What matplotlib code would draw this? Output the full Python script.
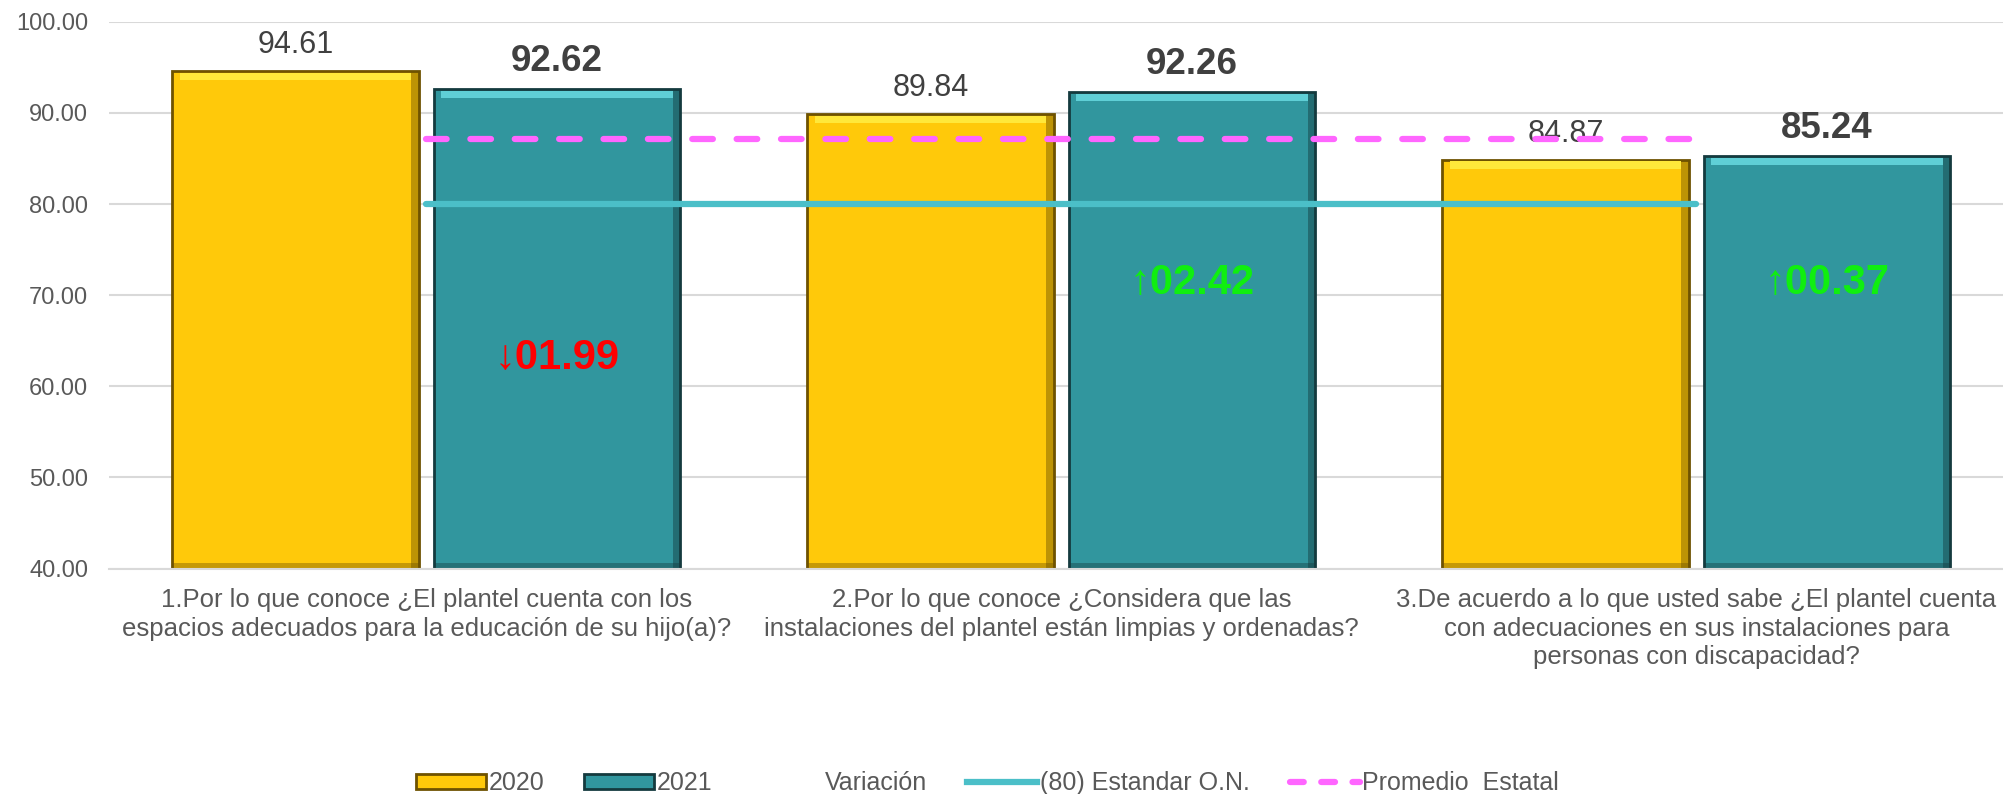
import matplotlib
matplotlib.use("Agg")
import matplotlib.pyplot as plt
from matplotlib.lines import Line2D
from matplotlib.patches import Patch
import numpy as np

plt.rcParams['font.family'] = ['Liberation Sans', 'DejaVu Sans']

categories = ["1.Por lo que conoce ¿El plantel cuenta con los\nespacios adecuados para la educación de su hijo(a)?",
              "2.Por lo que conoce ¿Considera que las\ninstalaciones del plantel están limpias y ordenadas?",
              "3.De acuerdo a lo que usted sabe ¿El plantel cuenta\ncon adecuaciones en sus instalaciones para\npersonas con discapacidad?"]
values2020 = [94.61, 89.84, 84.87]
values2021 = [92.62, 92.26, 85.24]
variacion = [-1.99, 2.42, 0.37]
variacionY = [63.1, 71.3, 71.3]   # height where the variation label sits
estandar = [80, 80, 80]
promedio = [87.1, 87.1, 87.1]

gray = '#595959'
gold = '#FFC90A'
goldLight = '#FFE83A'
goldEdge = '#6E5200'
teal = '#31969E'
tealLight = '#5FCFD6'
tealEdge = '#143A3E'

fig = plt.figure(figsize=(20.03, 7.94), dpi=100)
ax = fig.add_axes([0.0544, 0.284, 0.9456, 0.6886])

x = np.arange(len(categories))
w = 0.388
off = 0.206
base = 40

def bevelBars(xs, vals, face, light, edge):
	vals = np.array(vals)
	ax.bar(xs, vals - base, w, bottom=base, color=face, edgecolor=edge, linewidth=2, zorder=2)
	# top highlight and dark side/bottom strips to imitate the bevel
	ax.bar(xs, 0.8, w * 0.94, bottom=vals - 1.0, color=light, linewidth=0, zorder=2.1)
	ax.bar(xs + w / 2 - 0.006, vals - base, 0.012, bottom=base, color=edge, linewidth=0, alpha=0.45, zorder=2.1)
	ax.bar(xs, 0.6, w, bottom=base, color=edge, linewidth=0, alpha=0.4, zorder=2.1)

bevelBars(x - off, values2020, gold, goldLight, goldEdge)
bevelBars(x + off, values2021, teal, tealLight, tealEdge)

for i in range(len(x)):
	ax.annotate("%.2f" % values2020[i], (x[i] - off, values2020[i]), xytext=(0, 13), textcoords='offset points',
		ha='center', va='baseline', fontsize=22, color='#404040')
	ax.annotate("%.2f" % values2021[i], (x[i] + off, values2021[i]), xytext=(0, 13), textcoords='offset points',
		ha='center', va='baseline', fontsize=26.5, color='#404040', fontweight='bold')
	v = variacion[i]
	if v < 0:
		arrow = u"\u2193"
		col = '#FF0000'
	else:
		arrow = u"\u2191"
		col = '#10EE10'
	ax.text(x[i] + off, variacionY[i], arrow + "%05.2f" % abs(v), ha='center', va='center', fontsize=30,
		color=col, fontweight='bold', zorder=5)

ax.plot(x, estandar, color='#4BBFC8', linewidth=4.5, zorder=4, solid_capstyle='round')
ax.plot(x, promedio, color='#FF66FF', linewidth=4.5, linestyle=(0, (3.3, 3.8)), zorder=4, dash_capstyle='round')

ax.set_ylim(40, 100)
ax.set_xlim(-0.5, 2.483)
ax.set_yticks(np.arange(40, 101, 10))
ax.set_yticklabels(["%.2f" % t for t in np.arange(40, 101, 10)])
ax.set_xticks(x)
ax.set_xticklabels(categories, fontsize=18.5, color=gray, linespacing=1.25)
ax.tick_params(axis='y', labelsize=17, labelcolor=gray, length=0, pad=15)
ax.tick_params(axis='x', length=0, pad=14)
ax.grid(axis='y', color='#D9D9D9', linewidth=1.5, zorder=0)
ax.set_axisbelow(True)
for s in ['top', 'right', 'left']:
	ax.spines[s].set_visible(False)
ax.spines['bottom'].set_color('#D9D9D9')
ax.spines['bottom'].set_linewidth(1.5)

handles = [Patch(facecolor=gold, edgecolor=goldEdge, linewidth=2),
	Patch(facecolor=teal, edgecolor=tealEdge, linewidth=2),
	Line2D([], [], color='none'),
	Line2D([], [], color='#4BBFC8', linewidth=4.5),
	Line2D([], [], color='#FF66FF', linewidth=4.5, linestyle=(0, (2.2, 2.8)), dash_capstyle='round')]
labels = ['2020', '2021', 'Variación', '(80) Estandar O.N.', 'Promedio  Estatal']
fig.legend(handles, labels, loc='lower center', bbox_to_anchor=(0.493, -0.03), ncol=5, frameon=False,
	fontsize=18, labelcolor=gray, handlelength=2.8, handletextpad=0.1, columnspacing=1.6, handleheight=0.5)

plt.savefig("out.png", dpi=100)
